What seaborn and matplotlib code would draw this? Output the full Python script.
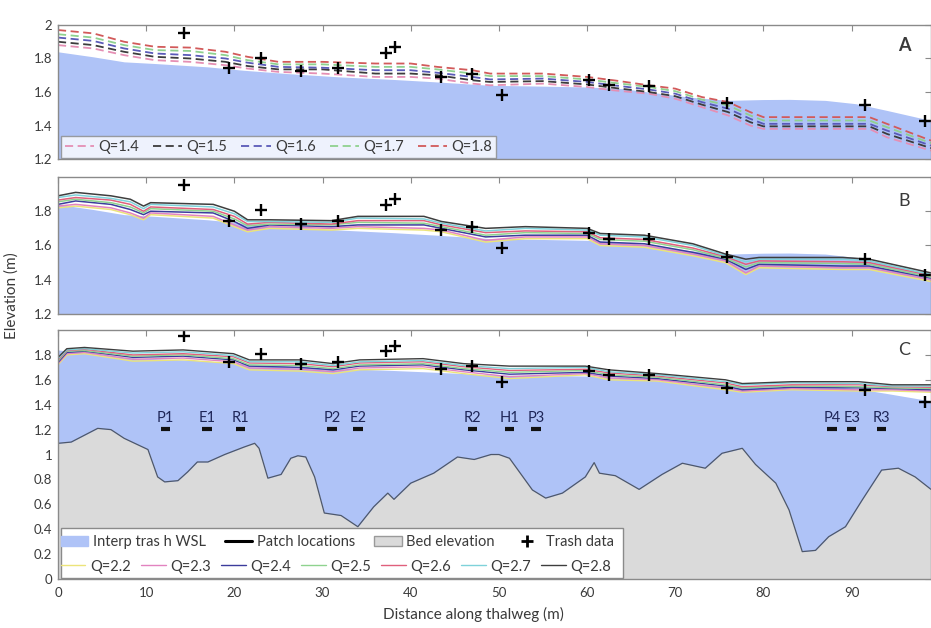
import numpy as np
import pandas as pd
import matplotlib
matplotlib.use("Agg")
import matplotlib.pyplot as plt
from matplotlib.lines import Line2D
from matplotlib.patches import Patch, Rectangle
from matplotlib.ticker import FuncFormatter
import seaborn as sns

sns.set_theme(style="white")
plt.rcParams["font.family"] = ["Lato", "DejaVu Sans"]

# ---------------- data ----------------
# trash-line survey points (distance along thalweg, elevation)
trash_x = [14.3, 19.4, 23.0, 27.5, 31.7, 37.2, 38.2, 43.4, 47.0, 50.4, 60.2, 62.5, 67.0, 75.9, 91.5, 98.3]
trash_y = [1.955, 1.745, 1.805, 1.725, 1.745, 1.835, 1.87, 1.69, 1.71, 1.585, 1.67, 1.64, 1.635, 1.535, 1.52, 1.425]

# interpolated trash water-surface level
wsl_x = [0, 4, 7.5, 11, 17, 21, 26, 32, 38, 43, 49, 55, 60, 64, 67, 71.5, 76, 80, 83, 87, 90.5, 94, 99]
wsl_y = [1.84, 1.81, 1.78, 1.77, 1.75, 1.73, 1.71, 1.69, 1.675, 1.66, 1.64, 1.635, 1.63, 1.62, 1.60,
         1.57, 1.55, 1.555, 1.556, 1.55, 1.53, 1.49, 1.43]

# bed elevation along thalweg
bed_x = [0, 1.5, 4.5, 6, 7.5, 10.2, 11.3, 12.1, 13.6, 14.7, 15.8, 17, 18.9, 21.1, 22.3, 22.8, 23.8, 25.3,
         26.4, 27.2, 28.1, 29.1, 30.2, 32.1, 34.0, 35.8, 37.4, 38.1, 40.0, 42.6, 45.3, 47.2, 49.1, 50.0,
         51.2, 53.8, 55.3, 57.2, 59.8, 60.8, 61.4, 63.2, 65.9, 68.5, 70.8, 73.4, 75.3, 77.6, 79.1, 81.4,
         82.9, 84.4, 85.9, 87.4, 89.3, 91.2, 93.4, 95.3, 97.2, 99]
bed_y = [1.09, 1.10, 1.21, 1.20, 1.13, 1.04, 0.82, 0.78, 0.79, 0.86, 0.94, 0.94, 1.00, 1.06, 1.09, 1.05,
         0.81, 0.84, 0.97, 0.99, 0.98, 0.82, 0.53, 0.51, 0.42, 0.58, 0.69, 0.64, 0.77, 0.85, 0.98, 0.96,
         1.00, 1.00, 0.97, 0.715, 0.65, 0.69, 0.82, 0.935, 0.85, 0.83, 0.72, 0.84, 0.93, 0.89, 1.01, 1.05,
         0.92, 0.77, 0.555, 0.22, 0.23, 0.34, 0.42, 0.635, 0.875, 0.89, 0.82, 0.72]

# habitat patch locations
patch_names = ["P1", "E1", "R1", "P2", "E2", "R2", "H1", "P3", "P4", "E3", "R3"]
patch_x = [12.2, 16.9, 20.7, 31.1, 34.0, 47.0, 51.2, 54.2, 87.8, 90.0, 93.4]
patch_level = 1.206

# panel A: modelled WSL for low flows
qa_labels = ["Q=1.4", "Q=1.5", "Q=1.6", "Q=1.7", "Q=1.8"]
qa_x = [0, 4, 7.5, 11, 15, 19, 21.5, 25, 30, 36, 40, 43, 47, 49, 55, 60, 63, 67, 70, 73, 76, 78.5, 80, 85, 92, 94, 99]
qa_14 = [1.88, 1.86, 1.82, 1.79, 1.78, 1.76, 1.74, 1.72, 1.71, 1.69, 1.69, 1.68, 1.65, 1.64, 1.65, 1.63, 1.61,
         1.59, 1.56, 1.51, 1.46, 1.40, 1.38, 1.38, 1.38, 1.33, 1.25]
qa_15 = [1.90, 1.88, 1.84, 1.81, 1.80, 1.78, 1.755, 1.735, 1.735, 1.71, 1.71, 1.70, 1.67, 1.66, 1.665, 1.645,
         1.625, 1.60, 1.575, 1.525, 1.48, 1.42, 1.395, 1.395, 1.395, 1.35, 1.265]
qa_16 = [1.925, 1.905, 1.86, 1.83, 1.82, 1.80, 1.775, 1.75, 1.745, 1.73, 1.73, 1.715, 1.69, 1.675, 1.68, 1.66,
         1.64, 1.615, 1.59, 1.54, 1.50, 1.44, 1.41, 1.41, 1.41, 1.37, 1.28]
qa_17 = [1.945, 1.925, 1.88, 1.85, 1.845, 1.82, 1.79, 1.765, 1.765, 1.75, 1.75, 1.735, 1.71, 1.695, 1.695,
         1.675, 1.655, 1.63, 1.605, 1.555, 1.52, 1.46, 1.43, 1.43, 1.43, 1.39, 1.295]
qa_18 = [1.97, 1.95, 1.90, 1.87, 1.865, 1.84, 1.81, 1.78, 1.78, 1.77, 1.77, 1.75, 1.73, 1.71, 1.71, 1.69, 1.67,
         1.64, 1.62, 1.57, 1.54, 1.48, 1.45, 1.45, 1.45, 1.41, 1.31]
qa_colors = ["#e58fb4", "#3c3c3c", "#5a5ab8", "#8fd18f", "#d25a5a"]

# panel B: modelled WSL, seven flows
qb_x = [0, 2, 6, 8.2, 9.7, 10.5, 17.6, 20, 21.5, 24, 31, 34, 41.5, 43.5, 48.5, 53, 60, 61.5, 66.5, 72, 75.7,
        78, 79.5, 89, 92, 99]
qb_1 = [1.82, 1.83, 1.81, 1.78, 1.75, 1.78, 1.76, 1.71, 1.68, 1.70, 1.69, 1.70, 1.69, 1.68, 1.62, 1.64, 1.64,
        1.60, 1.59, 1.54, 1.50, 1.43, 1.47, 1.46, 1.46, 1.39]
qb_2 = [1.83, 1.84, 1.82, 1.79, 1.76, 1.79, 1.77, 1.72, 1.69, 1.71, 1.70, 1.71, 1.70, 1.69, 1.63, 1.65, 1.65,
        1.61, 1.60, 1.55, 1.51, 1.44, 1.48, 1.47, 1.47, 1.40]
qb_3 = [1.84, 1.86, 1.84, 1.81, 1.78, 1.80, 1.79, 1.74, 1.70, 1.72, 1.71, 1.72, 1.72, 1.70, 1.65, 1.66, 1.66,
        1.62, 1.61, 1.56, 1.52, 1.46, 1.49, 1.48, 1.48, 1.41]
qb_4 = [1.855, 1.87, 1.85, 1.825, 1.79, 1.815, 1.80, 1.755, 1.715, 1.725, 1.72, 1.735, 1.73, 1.71, 1.66,
        1.675, 1.67, 1.635, 1.625, 1.575, 1.525, 1.475, 1.50, 1.495, 1.49, 1.415]
qb_5 = [1.865, 1.88, 1.865, 1.84, 1.80, 1.825, 1.81, 1.77, 1.725, 1.735, 1.725, 1.745, 1.745, 1.72, 1.675,
        1.685, 1.68, 1.645, 1.635, 1.585, 1.535, 1.49, 1.51, 1.505, 1.50, 1.425]
qb_6 = [1.88, 1.895, 1.875, 1.855, 1.815, 1.84, 1.825, 1.785, 1.74, 1.74, 1.735, 1.76, 1.755, 1.73, 1.685,
        1.70, 1.69, 1.66, 1.65, 1.60, 1.54, 1.505, 1.52, 1.52, 1.51, 1.43]
qb_7 = [1.89, 1.91, 1.89, 1.87, 1.83, 1.85, 1.84, 1.80, 1.75, 1.75, 1.745, 1.77, 1.77, 1.74, 1.70, 1.71, 1.70,
        1.67, 1.66, 1.61, 1.55, 1.52, 1.53, 1.53, 1.52, 1.44]

# panel C: modelled WSL for high flows
qc_labels = ["Q=2.2", "Q=2.3", "Q=2.4", "Q=2.5", "Q=2.6", "Q=2.7", "Q=2.8"]
qc_x = [0, 1, 3, 8.5, 14.2, 19.9, 21.7, 27.4, 31.2, 34.2, 41.4, 46, 51.2, 59.8, 62.5, 68, 75.7, 77.6, 83.2,
        90.8, 94.6, 99]
qc_22 = [1.72, 1.80, 1.81, 1.75, 1.76, 1.73, 1.68, 1.67, 1.65, 1.68, 1.69, 1.65, 1.61, 1.64, 1.60, 1.59, 1.52,
         1.50, 1.52, 1.51, 1.51, 1.50]
qc_23 = [1.73, 1.81, 1.82, 1.765, 1.775, 1.745, 1.695, 1.685, 1.665, 1.695, 1.705, 1.665, 1.625, 1.65, 1.615,
         1.60, 1.535, 1.51, 1.53, 1.52, 1.52, 1.51]
qc_24 = [1.74, 1.82, 1.83, 1.78, 1.79, 1.76, 1.71, 1.70, 1.68, 1.71, 1.72, 1.68, 1.645, 1.66, 1.63, 1.61, 1.55,
         1.52, 1.54, 1.535, 1.53, 1.52]
qc_25 = [1.75, 1.83, 1.835, 1.79, 1.80, 1.77, 1.72, 1.715, 1.69, 1.72, 1.73, 1.69, 1.66, 1.675, 1.64, 1.62,
         1.56, 1.535, 1.55, 1.545, 1.535, 1.53]
qc_26 = [1.76, 1.835, 1.845, 1.80, 1.81, 1.785, 1.735, 1.73, 1.705, 1.735, 1.745, 1.705, 1.675, 1.685, 1.655,
         1.63, 1.575, 1.545, 1.56, 1.56, 1.545, 1.54]
qc_27 = [1.77, 1.84, 1.85, 1.815, 1.825, 1.795, 1.745, 1.745, 1.715, 1.745, 1.755, 1.715, 1.69, 1.70, 1.665,
         1.64, 1.585, 1.56, 1.575, 1.57, 1.55, 1.55]
qc_28 = [1.78, 1.85, 1.86, 1.83, 1.84, 1.81, 1.76, 1.76, 1.73, 1.76, 1.77, 1.73, 1.71, 1.71, 1.68, 1.65, 1.60,
         1.57, 1.585, 1.585, 1.56, 1.56]
qc_colors = ["#ece47a", "#e283c0", "#3c3c9c", "#8fd38f", "#e0607c", "#7fd2da", "#3e3e3e"]

x_ticks = [0, 10, 20, 30, 40, 50, 60, 70, 80, 90]

# ---------------- styling ----------------
WSL_BLUE = "#afc3f7"
BED_GREY = "#dadada"
SPINE = "#8a8a8a"
TXT = "#3a3a3a"

fig = plt.figure(figsize=(9.31, 6.28), dpi=100)
axA = fig.add_axes([0.0623, 0.7468, 0.9377, 0.2134])
axB = fig.add_axes([0.0623, 0.5000, 0.9377, 0.2182])
axC = fig.add_axes([0.0623, 0.0780, 0.9377, 0.3965])

fmt = FuncFormatter(lambda v, p: f"{v:g}")


def base(ax, ylim, yticks, show_x):
    ax.fill_between(wsl_x, 0, wsl_y, color=WSL_BLUE, lw=0, zorder=1)
    ax.set_xlim(0, 99)
    ax.set_ylim(*ylim)
    ax.set_xticks(x_ticks)
    ax.set_yticks(yticks)
    ax.yaxis.set_major_formatter(fmt)
    ax.tick_params(direction="in", top=True, right=True, length=4, width=0.8,
                   color=SPINE, labelcolor=TXT, labelsize=9.5, pad=4)
    if not show_x:
        ax.tick_params(labelbottom=False)
    for s in ax.spines.values():
        s.set_color(SPINE)
        s.set_linewidth(1.0)
        s.set_zorder(6)
    ax.set_xlabel("")
    ax.set_ylabel("")


def trash(ax):
    sns.scatterplot(x=trash_x, y=trash_y, ax=ax, marker="+", s=75, color="black",
                    linewidth=1.7, zorder=4, legend=False)


# ---- panel A ----
base(axA, (1.2, 2.0), [1.2, 1.4, 1.6, 1.8, 2.0], False)
for lab, vals, c in zip(qa_labels, [qa_14, qa_15, qa_16, qa_17, qa_18], qa_colors):
    sns.lineplot(x=qa_x, y=vals, ax=axA, color=c, lw=1.3, linestyle=(0, (4.5, 2.5)),
                 sort=False, estimator=None, legend=False, zorder=3)
trash(axA)
axA.text(96.0, 1.88, "A", fontsize=13, fontweight="bold", color=TXT, ha="center", va="center")
hA = [Line2D([], [], color=c, lw=1.3, linestyle=(0, (4.5, 2.5))) for c in qa_colors]
legA = axA.legend(hA, qa_labels, loc="lower left", bbox_to_anchor=(0.003, 0.005), ncol=5,
                  fontsize=10.5, frameon=True, fancybox=False, borderaxespad=0, borderpad=0.3,
                  handlelength=2.0, handletextpad=0.3, columnspacing=0.95, labelcolor=TXT)
legA.get_frame().set_edgecolor(SPINE)
legA.get_frame().set_linewidth(1.0)
legA.set_zorder(7)

# ---- panel B ----
base(axB, (1.2, 2.0), [1.2, 1.4, 1.6, 1.8], False)
for vals, c in zip([qb_1, qb_2, qb_3, qb_4, qb_5, qb_6, qb_7], qc_colors):
    sns.lineplot(x=qb_x, y=vals, ax=axB, color=c, lw=1.1, sort=False, estimator=None,
                 legend=False, zorder=3)
trash(axB)
axB.text(96.0, 1.86, "B", fontsize=13, color=TXT, ha="center", va="center")

# ---- panel C ----
base(axC, (0, 2.0), [0, 0.2, 0.4, 0.6, 0.8, 1.0, 1.2, 1.4, 1.6, 1.8], True)
axC.fill_between(bed_x, 0, bed_y, color=BED_GREY, lw=0, zorder=1.5)
sns.lineplot(x=bed_x, y=bed_y, ax=axC, color="#4d576b", lw=0.9, sort=False, estimator=None,
             legend=False, zorder=2)
for lab, vals, c in zip(qc_labels, [qc_22, qc_23, qc_24, qc_25, qc_26, qc_27, qc_28], qc_colors):
    sns.lineplot(x=qc_x, y=vals, ax=axC, color=c, lw=1.0, sort=False, estimator=None,
                 legend=False, zorder=3)
trash(axC)
px = np.array(patch_x)
axC.hlines([patch_level] * len(px), px - 0.55, px + 0.55, color="#111111", lw=3, zorder=4)
for name, xv in zip(patch_names, patch_x):
    axC.text(xv, patch_level + 0.03, name, ha="center", va="bottom", fontsize=10.5,
             color="#1e2658", zorder=4)
axC.text(96.0, 1.84, "C", fontsize=13, color=TXT, ha="center", va="center")
axC.tick_params(axis="x", pad=6)

# two-row legend sharing one frame
axC.add_patch(Rectangle((0.004, 0.004), 0.643, 0.2, transform=axC.transAxes,
                        facecolor="white", edgecolor=SPINE, lw=1.0, zorder=6))
h1 = [Patch(facecolor=WSL_BLUE, edgecolor=WSL_BLUE),
      Line2D([], [], color="black", lw=2.2),
      Patch(facecolor=BED_GREY, edgecolor="#9a9a9a"),
      Line2D([], [], color="black", marker="+", markersize=8, mew=2, lw=0)]
l1 = ["Interp tras h WSL", "Patch locations", "Bed elevation", "Trash data"]
leg1 = axC.legend(h1, l1, loc="center left", bbox_to_anchor=(0.003, 0.149), ncol=4,
                  fontsize=10.5, frameon=False, borderaxespad=0, borderpad=0,
                  handlelength=1.9, handletextpad=0.3, columnspacing=1.3, labelcolor=TXT)
leg1.set_zorder(7)
axC.add_artist(leg1)
h2 = [Line2D([], [], color=c, lw=1.0) for c in qc_colors]
leg2 = axC.legend(h2, qc_labels, loc="center left", bbox_to_anchor=(0.003, 0.05), ncol=7,
                  fontsize=10.5, frameon=False, borderaxespad=0, borderpad=0,
                  handlelength=1.7, handletextpad=0.3, columnspacing=0.7, labelcolor=TXT)
leg2.set_zorder(7)

fig.text(0.012, 0.529, "Elevation (m)", rotation=90, ha="center", va="center", fontsize=11, color=TXT)
fig.text(0.508, 0.022, "Distance along thalweg (m)", ha="center", va="center", fontsize=11, color=TXT)

fig.savefig("out.png", dpi=100)
